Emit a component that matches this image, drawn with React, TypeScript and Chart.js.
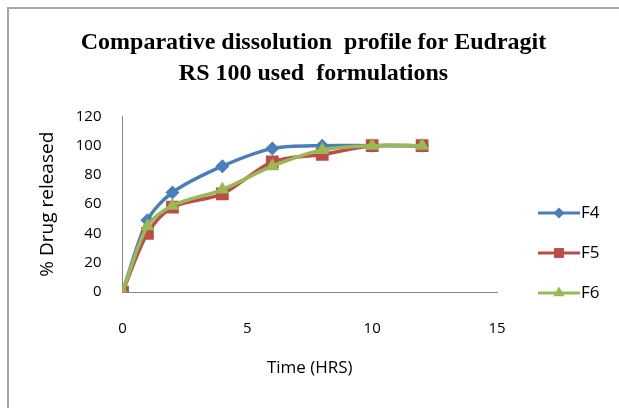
import React, { useEffect, useRef } from "react";
import { Chart, registerables } from "chart.js";

Chart.register(...registerables);

const timeHrs = [0, 1, 2, 4, 6, 8, 10, 12];
const f4 = [0, 49, 68, 86, 98, 100, 100, 100];
const f5 = [0, 40, 58, 67, 89, 94, 100, 100];
const f6 = [0, 45, 59, 70, 86, 97, 100, 100];
const seriesNames = ["F4", "F5", "F6"];
const titleLines = ["Comparative dissolution  profile for Eudragit", "RS 100 used  formulations"];
const xTitle = "Time (HRS)";
const yTitle = "% Drug released";

const BLUE = "#4A7EBB";
const RED = "#BE4B48";
const GREEN = "#98B954";

const styles = [
  { color: BLUE, point: "rectRot", radius: 7, legendRadius: 5.5 },
  { color: RED, point: "rect", radius: 9, legendRadius: 7 },
  { color: GREEN, point: "triangle", radius: 8, legendRadius: 6.5 },
];

function drawMarker(ctx: CanvasRenderingContext2D, kind: string, x: number, y: number, r: number, color: string) {
  ctx.save();
  ctx.fillStyle = color;
  ctx.beginPath();
  if (kind === "rectRot") {
    ctx.moveTo(x, y - r);
    ctx.lineTo(x + r, y);
    ctx.lineTo(x, y + r);
    ctx.lineTo(x - r, y);
    ctx.closePath();
  } else if (kind === "rect") {
    const s = r * Math.SQRT1_2;
    ctx.rect(x - s, y - s, 2 * s, 2 * s);
  } else {
    const h = r * 1.5;
    ctx.moveTo(x, y - r);
    ctx.lineTo(x + h / Math.sqrt(3), y + r / 2);
    ctx.lineTo(x - h / Math.sqrt(3), y + r / 2);
    ctx.closePath();
  }
  ctx.fill();
  ctx.restore();
}

const borderPlugin = {
  id: "frameBorder",
  beforeDraw(chart: any) {
    const ctx = chart.ctx;
    ctx.save();
    ctx.strokeStyle = "#A6A6A6";
    ctx.lineWidth = 2;
    ctx.beginPath();
    ctx.moveTo(8, chart.height);
    ctx.lineTo(8, 8);
    ctx.lineTo(chart.width, 8);
    ctx.stroke();
    ctx.restore();
  },
};

const legendPlugin = {
  id: "sideLegend",
  afterDraw(chart: any) {
    const ctx = chart.ctx;
    const ys = [213, 253, 293];
    ctx.save();
    chart.data.datasets.forEach((ds: any, i: number) => {
      const st = styles[i];
      const y = ys[i];
      ctx.strokeStyle = st.color;
      ctx.lineWidth = 3;
      ctx.beginPath();
      ctx.moveTo(538, y);
      ctx.lineTo(580, y);
      ctx.stroke();
      drawMarker(ctx, st.point, 559, y, st.legendRadius, st.color);
      ctx.fillStyle = "#000";
      ctx.font = "17px 'Open Sans'";
      ctx.textBaseline = "middle";
      ctx.textAlign = "left";
      ctx.fillText(ds.label, 581, y);
    });
    ctx.restore();
  },
};

export default function App() {
  const ref = useRef<HTMLCanvasElement>(null);
  useEffect(() => {
    if (!ref.current) return;
    const series = [f4, f5, f6];
    const chart = new Chart(ref.current, {
      type: "line",
      data: {
        datasets: series.map((vals, i) => ({
          label: seriesNames[i],
          data: timeHrs.map((t, j) => ({ x: t, y: vals[j] })),
          borderColor: styles[i].color,
          backgroundColor: styles[i].color,
          borderWidth: 3.5,
          pointStyle: styles[i].point as any,
          pointRadius: styles[i].radius,
          pointBorderWidth: 0,
          pointBackgroundColor: styles[i].color,
          tension: 0.3,
          fill: false,
          order: 2 - i,
        })),
      },
      options: {
        responsive: false,
        animation: false,
        layout: { padding: { left: 8, right: 0, top: 0, bottom: 30 } },
        plugins: {
          legend: { display: false },
          tooltip: { enabled: false },
          title: {
            display: true,
            text: titleLines,
            color: "#000",
            font: { family: "Liberation Serif", size: 24, weight: "bold", lineHeight: 1.3 },
            padding: { top: 27, bottom: 27 },
          },
        },
        scales: {
          x: {
            type: "linear",
            min: 0,
            max: 15,
            afterFit: (s: any) => { s.height = 86; },
            ticks: { stepSize: 5, color: "#000", font: { family: "Open Sans", size: 15 }, padding: 28 },
            grid: { display: false, drawTicks: false },
            border: { display: true, color: "#868686", width: 1 },
            title: {
              display: true,
              text: xTitle,
              color: "#000",
              font: { family: "Open Sans", size: 17 },
              padding: { top: 0, bottom: 0 },
            },
          },
          y: {
            type: "linear",
            min: 0,
            max: 120,
            afterFit: (s: any) => { s.width = 114.5; },
            ticks: { stepSize: 20, color: "#000", font: { family: "Open Sans", size: 15 }, padding: 21 },
            grid: { display: false, drawTicks: false },
            border: { display: true, color: "#868686", width: 1 },
            title: {
              display: true,
              text: yTitle,
              color: "#000",
              font: { family: "Open Sans", size: 19 },
              padding: { top: 28, bottom: 0 },
            },
          },
          legendSpace: {
            type: "linear",
            position: "right",
            display: true,
            afterFit: (s: any) => { s.width = 122; },
            ticks: { display: false },
            grid: { display: false, drawTicks: false },
            border: { display: false },
          },
        },
      },
      plugins: [borderPlugin, legendPlugin],
    });
    return () => chart.destroy();
  }, []);
  return (
    <div style={{ position: "fixed", left: 0, top: 0, width: 619, height: 408, background: "#fff" }}>
      <canvas ref={ref} width={619} height={408} style={{ display: "block" }} />
    </div>
  );
}
